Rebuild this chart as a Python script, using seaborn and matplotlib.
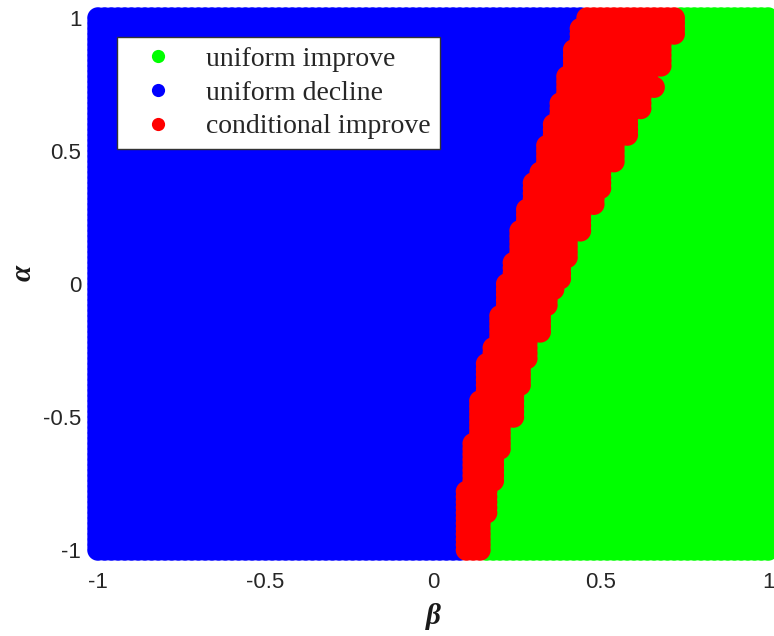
import numpy as np
import pandas as pd
import seaborn as sns
import matplotlib.pyplot as plt
from matplotlib.lines import Line2D

# Parameter grid (beta on x, alpha on y)
beta_values = np.round(np.arange(-1.0, 1.0001, 0.02), 2)
alpha_values = np.round(np.arange(-1.0, 1.0001, 0.02), 2)

# Left edge of the "conditional improve" band: from each alpha onwards,
# the smallest beta that falls in the band
left_alpha_from = [-1.00, -0.76, -0.58, -0.42, -0.28, -0.22, -0.10, 0.02, 0.10,
                   0.22, 0.30, 0.40, 0.44, 0.54, 0.62, 0.70, 0.80, 0.90, 0.98]
left_beta = [0.10, 0.12, 0.14, 0.16, 0.18, 0.20, 0.22, 0.24, 0.26,
             0.28, 0.30, 0.32, 0.34, 0.36, 0.38, 0.40, 0.42, 0.44, 0.46]

# Right edge of the band: from each alpha onwards, the largest beta in the band
right_alpha_from = [-1.00, -0.86, -0.74, -0.62, -0.50, -0.38, -0.28, -0.18, -0.08,
                    -0.02, 0.02, 0.10, 0.20, 0.30, 0.36, 0.46, 0.56, 0.66,
                    0.74, 0.76, 0.82, 0.94]
right_beta = [0.14, 0.16, 0.18, 0.20, 0.24, 0.26, 0.28, 0.32, 0.34,
              0.36, 0.38, 0.40, 0.44, 0.48, 0.50, 0.54, 0.58, 0.62,
              0.66, 0.64, 0.68, 0.72]

region_names = ["uniform improve", "uniform decline", "conditional improve"]
region_colors = ["#00ff00", "#0000ff", "#ff0000"]
x_ticks = [-1, -0.5, 0, 0.5, 1]
x_tick_labels = ["-1", "-0.5", "0", "0.5", "1"]
y_ticks = [-1, -0.5, 0, 0.5, 1]
y_tick_labels = ["-1", "-0.5", "0", "0.5", "1"]


def edge_at(alpha, starts, values):
    idx = np.searchsorted(np.asarray(starts), alpha + 1e-9, side="right") - 1
    return np.asarray(values)[idx]


B, A = np.meshgrid(beta_values, alpha_values)
B = B.ravel()
A = A.ravel()
lo = edge_at(A, left_alpha_from, left_beta)
hi = edge_at(A, right_alpha_from, right_beta)
region = np.where(B < lo - 1e-9, region_names[1],
                  np.where(B > hi + 1e-9, region_names[0], region_names[2]))

df = pd.DataFrame({"beta": B, "alpha": A, "region": region})
df["region"] = pd.Categorical(df["region"], categories=region_names, ordered=True)
df = df.sort_values("region", kind="stable")  # red band drawn last, on top

sns.set_theme(style="white")
plt.rcParams["axes.unicode_minus"] = False

fig = plt.figure(figsize=(7.74, 6.36), dpi=100)
ax = fig.add_axes([98 / 774, 1 - 550 / 636, 670 / 774, 532 / 636])

palette = dict(zip(region_names, region_colors))
sns.scatterplot(data=df, x="beta", y="alpha", hue="region", hue_order=region_names,
                palette=palette, s=240, linewidth=0, marker="o", legend=False,
                clip_on=False, ax=ax)

ax.set_xlim(-1, 1)
ax.set_ylim(-1, 1)
for sp in ax.spines.values():
    sp.set_visible(False)
ax.set_xticks(x_ticks)
ax.set_xticklabels(x_tick_labels)
ax.set_yticks(y_ticks)
ax.set_yticklabels(y_tick_labels)
ax.tick_params(axis="both", length=0, labelsize=16, labelcolor="#262626")
ax.tick_params(axis="x", pad=15.5)
ax.tick_params(axis="y", pad=12)
for lab in ax.get_xticklabels() + ax.get_yticklabels():
    lab.set_family("Liberation Sans")

label_font = dict(family="Liberation Serif", style="italic", weight="bold", size=21,
                  color="#1a1a1a")
ax.set_xlabel("β", **label_font)
ax.set_ylabel("α", **label_font)
ax.xaxis.set_label_coords(0.5, -0.10)
ax.yaxis.set_label_coords(-0.092, 0.52)

handles = [Line2D([0], [0], marker="o", linestyle="none", markersize=9.5,
                  markerfacecolor=c, markeredgewidth=0) for c in region_colors]
leg = ax.legend(handles, region_names, loc="upper left",
                bbox_to_anchor=(0.028, 0.965), borderaxespad=0,
                prop=dict(family="Liberation Serif", size=20),
                frameon=True, fancybox=False, framealpha=1, edgecolor="#333333",
                borderpad=0.35, handlelength=2.3, handletextpad=0.55,
                labelspacing=0.3)
leg.get_frame().set_linewidth(1.0)
leg.set_zorder(5)

fig.savefig("out.png", dpi=100, facecolor="white")
